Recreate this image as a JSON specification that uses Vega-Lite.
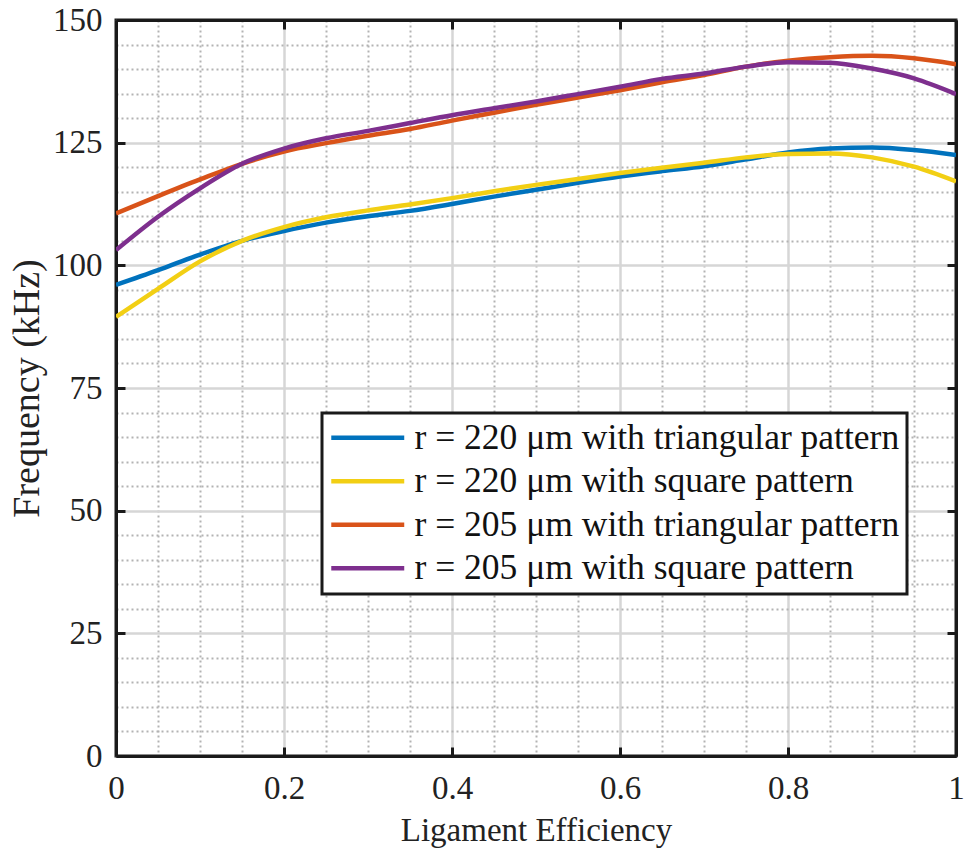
{
  "$schema": "https://vega.github.io/schema/vega-lite/v6.json",
  "width": 840,
  "height": 736,
  "autosize": {"type": "none"},
  "padding": {"left": 116, "top": 20, "right": 8, "bottom": 101},
  "background": "white",
  "config": {
    "view": {"stroke": "#1a1a1a", "strokeWidth": 3},
    "legend": {"strokeWidth": 3},
    "font": "Liberation Serif"
  },
  "data": {
    "values": [
      {"x": 0, "f": 96.0, "s": "r = 220 μm with triangular pattern"},
      {"x": 0.05, "f": 99.0, "s": "r = 220 μm with triangular pattern"},
      {"x": 0.1, "f": 102.2, "s": "r = 220 μm with triangular pattern"},
      {"x": 0.15, "f": 105.0, "s": "r = 220 μm with triangular pattern"},
      {"x": 0.2, "f": 107.0, "s": "r = 220 μm with triangular pattern"},
      {"x": 0.25, "f": 108.7, "s": "r = 220 μm with triangular pattern"},
      {"x": 0.3, "f": 110.0, "s": "r = 220 μm with triangular pattern"},
      {"x": 0.35, "f": 111.1, "s": "r = 220 μm with triangular pattern"},
      {"x": 0.4, "f": 112.5, "s": "r = 220 μm with triangular pattern"},
      {"x": 0.45, "f": 114.0, "s": "r = 220 μm with triangular pattern"},
      {"x": 0.5, "f": 115.4, "s": "r = 220 μm with triangular pattern"},
      {"x": 0.55, "f": 116.8, "s": "r = 220 μm with triangular pattern"},
      {"x": 0.6, "f": 118.1, "s": "r = 220 μm with triangular pattern"},
      {"x": 0.65, "f": 119.2, "s": "r = 220 μm with triangular pattern"},
      {"x": 0.7, "f": 120.2, "s": "r = 220 μm with triangular pattern"},
      {"x": 0.75, "f": 121.6, "s": "r = 220 μm with triangular pattern"},
      {"x": 0.8, "f": 123.0, "s": "r = 220 μm with triangular pattern"},
      {"x": 0.85, "f": 123.8, "s": "r = 220 μm with triangular pattern"},
      {"x": 0.9, "f": 124.0, "s": "r = 220 μm with triangular pattern"},
      {"x": 0.95, "f": 123.5, "s": "r = 220 μm with triangular pattern"},
      {"x": 1, "f": 122.5, "s": "r = 220 μm with triangular pattern"},
      {"x": 0, "f": 89.5, "s": "r = 220 μm with square pattern"},
      {"x": 0.05, "f": 95.2, "s": "r = 220 μm with square pattern"},
      {"x": 0.1, "f": 100.8, "s": "r = 220 μm with square pattern"},
      {"x": 0.15, "f": 105.0, "s": "r = 220 μm with square pattern"},
      {"x": 0.2, "f": 107.8, "s": "r = 220 μm with square pattern"},
      {"x": 0.25, "f": 109.8, "s": "r = 220 μm with square pattern"},
      {"x": 0.3, "f": 111.2, "s": "r = 220 μm with square pattern"},
      {"x": 0.35, "f": 112.4, "s": "r = 220 μm with square pattern"},
      {"x": 0.4, "f": 113.7, "s": "r = 220 μm with square pattern"},
      {"x": 0.45, "f": 115.1, "s": "r = 220 μm with square pattern"},
      {"x": 0.5, "f": 116.4, "s": "r = 220 μm with square pattern"},
      {"x": 0.55, "f": 117.6, "s": "r = 220 μm with square pattern"},
      {"x": 0.6, "f": 118.8, "s": "r = 220 μm with square pattern"},
      {"x": 0.65, "f": 119.9, "s": "r = 220 μm with square pattern"},
      {"x": 0.7, "f": 120.9, "s": "r = 220 μm with square pattern"},
      {"x": 0.75, "f": 122.0, "s": "r = 220 μm with square pattern"},
      {"x": 0.8, "f": 122.7, "s": "r = 220 μm with square pattern"},
      {"x": 0.85, "f": 122.8, "s": "r = 220 μm with square pattern"},
      {"x": 0.9, "f": 122.0, "s": "r = 220 μm with square pattern"},
      {"x": 0.95, "f": 120.1, "s": "r = 220 μm with square pattern"},
      {"x": 1, "f": 117.1, "s": "r = 220 μm with square pattern"},
      {"x": 0, "f": 110.6, "s": "r = 205 μm with triangular pattern"},
      {"x": 0.05, "f": 114.1, "s": "r = 205 μm with triangular pattern"},
      {"x": 0.1, "f": 117.5, "s": "r = 205 μm with triangular pattern"},
      {"x": 0.15, "f": 120.7, "s": "r = 205 μm with triangular pattern"},
      {"x": 0.2, "f": 123.2, "s": "r = 205 μm with triangular pattern"},
      {"x": 0.25, "f": 124.9, "s": "r = 205 μm with triangular pattern"},
      {"x": 0.3, "f": 126.4, "s": "r = 205 μm with triangular pattern"},
      {"x": 0.35, "f": 127.8, "s": "r = 205 μm with triangular pattern"},
      {"x": 0.4, "f": 129.5, "s": "r = 205 μm with triangular pattern"},
      {"x": 0.45, "f": 131.1, "s": "r = 205 μm with triangular pattern"},
      {"x": 0.5, "f": 132.7, "s": "r = 205 μm with triangular pattern"},
      {"x": 0.55, "f": 134.2, "s": "r = 205 μm with triangular pattern"},
      {"x": 0.6, "f": 135.7, "s": "r = 205 μm with triangular pattern"},
      {"x": 0.65, "f": 137.3, "s": "r = 205 μm with triangular pattern"},
      {"x": 0.7, "f": 138.8, "s": "r = 205 μm with triangular pattern"},
      {"x": 0.75, "f": 140.5, "s": "r = 205 μm with triangular pattern"},
      {"x": 0.8, "f": 141.7, "s": "r = 205 μm with triangular pattern"},
      {"x": 0.85, "f": 142.4, "s": "r = 205 μm with triangular pattern"},
      {"x": 0.9, "f": 142.7, "s": "r = 205 μm with triangular pattern"},
      {"x": 0.95, "f": 142.2, "s": "r = 205 μm with triangular pattern"},
      {"x": 1, "f": 141.0, "s": "r = 205 μm with triangular pattern"},
      {"x": 0, "f": 103.1, "s": "r = 205 μm with square pattern"},
      {"x": 0.05, "f": 109.9, "s": "r = 205 μm with square pattern"},
      {"x": 0.1, "f": 115.7, "s": "r = 205 μm with square pattern"},
      {"x": 0.15, "f": 120.7, "s": "r = 205 μm with square pattern"},
      {"x": 0.2, "f": 123.8, "s": "r = 205 μm with square pattern"},
      {"x": 0.25, "f": 125.9, "s": "r = 205 μm with square pattern"},
      {"x": 0.3, "f": 127.4, "s": "r = 205 μm with square pattern"},
      {"x": 0.35, "f": 129.0, "s": "r = 205 μm with square pattern"},
      {"x": 0.4, "f": 130.6, "s": "r = 205 μm with square pattern"},
      {"x": 0.45, "f": 132.0, "s": "r = 205 μm with square pattern"},
      {"x": 0.5, "f": 133.4, "s": "r = 205 μm with square pattern"},
      {"x": 0.55, "f": 134.9, "s": "r = 205 μm with square pattern"},
      {"x": 0.6, "f": 136.4, "s": "r = 205 μm with square pattern"},
      {"x": 0.65, "f": 138.0, "s": "r = 205 μm with square pattern"},
      {"x": 0.7, "f": 139.1, "s": "r = 205 μm with square pattern"},
      {"x": 0.75, "f": 140.5, "s": "r = 205 μm with square pattern"},
      {"x": 0.8, "f": 141.4, "s": "r = 205 μm with square pattern"},
      {"x": 0.85, "f": 141.3, "s": "r = 205 μm with square pattern"},
      {"x": 0.9, "f": 140.1, "s": "r = 205 μm with square pattern"},
      {"x": 0.95, "f": 138.1, "s": "r = 205 μm with square pattern"},
      {"x": 1, "f": 134.9, "s": "r = 205 μm with square pattern"}
    ]
  },
  "resolve": {"axis": {"x": "independent", "y": "independent"}},
  "layer": [
    {
      "mark": {"type": "line", "strokeWidth": 4.5, "interpolate": "monotone", "clip": true},
      "encoding": {
        "x": {
          "field": "x", "type": "quantitative",
          "scale": {"domain": [0, 1], "nice": false, "zero": false},
          "axis": {
            "orient": "bottom",
            "values": [0, 0.05, 0.1, 0.15, 0.2, 0.25, 0.3, 0.35, 0.4, 0.45, 0.5, 0.55, 0.6, 0.65, 0.7, 0.75, 0.8, 0.85, 0.9, 0.95, 1],
            "title": "Ligament Efficiency",
            "titleFont": "Liberation Serif", "titleFontSize": 33, "titleFontWeight": "normal", "titleColor": "#222",
            "titlePadding": 9,
            "labelFont": "Liberation Serif", "labelFontSize": 33, "labelColor": "#222",
            "labelExpr": "abs(datum.value*5-round(datum.value*5))<1e-6 ? format(datum.value,'~g') : ''",
            "labelPadding": 25, "labelOverlap": false, "labelFlush": false, "labelBound": false,
            "grid": true,
            "gridColor": {"condition": {"test": "abs(datum.value*5-round(datum.value*5))<1e-6", "value": "#d6d6d6"}, "value": "#b3b3b3"},
            "gridDash": {"condition": {"test": "abs(datum.value*5-round(datum.value*5))<1e-6", "value": []}, "value": [2, 3]},
            "gridWidth": {"condition": {"test": "abs(datum.value*5-round(datum.value*5))<1e-6", "value": 2.5}, "value": 2},
            "ticks": true, "tickSize": -9, "tickWidth": 3, "tickColor": "#1a1a1a",
            "tickOpacity": {"condition": {"test": "abs(datum.value*5-round(datum.value*5))<1e-6", "value": 1}, "value": 0},
            "domainColor": "#1a1a1a", "domainWidth": 3
          }
        },
        "y": {
          "field": "f", "type": "quantitative",
          "scale": {"domain": [0, 150], "nice": false},
          "axis": {
            "orient": "left",
            "values": [0, 5, 10, 15, 20, 25, 30, 35, 40, 45, 50, 55, 60, 65, 70, 75, 80, 85, 90, 95, 100, 105, 110, 115, 120, 125, 130, 135, 140, 145, 150],
            "title": "Frequency (kHz)",
            "titleFont": "Liberation Serif", "titleFontSize": 38, "titleFontWeight": "normal", "titleColor": "#222",
            "titlePadding": 6,
            "labelFont": "Liberation Serif", "labelFontSize": 33, "labelColor": "#222",
            "labelExpr": "datum.value % 25 === 0 ? format(datum.value,'d') : ''",
            "labelPadding": 23, "labelOverlap": false, "labelFlush": false, "labelBound": false,
            "grid": true,
            "gridColor": {"condition": {"test": "datum.value % 25 === 0", "value": "#d6d6d6"}, "value": "#b3b3b3"},
            "gridDash": {"condition": {"test": "datum.value % 25 === 0", "value": []}, "value": [2, 3]},
            "gridWidth": {"condition": {"test": "datum.value % 25 === 0", "value": 2.5}, "value": 2},
            "ticks": true, "tickSize": -9, "tickWidth": 3, "tickColor": "#1a1a1a",
            "tickOpacity": {"condition": {"test": "datum.value % 25 === 0", "value": 1}, "value": 0},
            "domainColor": "#1a1a1a", "domainWidth": 3
          }
        },
        "color": {
          "field": "s", "type": "nominal",
          "scale": {
            "domain": ["r = 220 μm with triangular pattern", "r = 220 μm with square pattern", "r = 205 μm with triangular pattern", "r = 205 μm with square pattern"],
            "range": ["#0072BD", "#F2CF14", "#D95319", "#7E2F8E"]
          },
          "legend": {
            "orient": "none", "legendX": 206, "legendY": 393,
            "title": null,
            "symbolType": "M-5,0H5", "symbolSize": 213, "symbolStrokeWidth": 4.5,
            "symbolOffset": 21,
            "labelFont": "Liberation Serif", "labelFontSize": 35.5, "labelColor": "#111", "labelLimit": 900,
            "labelOffset": 29,
            "padding": 7, "rowPadding": 6.5,
            "strokeColor": "#1a1a1a", "fillColor": "white"
          }
        }
      }
    },
    {
      "mark": {"type": "line", "strokeOpacity": 0},
      "encoding": {
        "x": {
          "field": "x", "type": "quantitative",
          "axis": {
            "orient": "top", "values": [0, 0.2, 0.4, 0.6, 0.8, 1], "title": null, "labels": false, "grid": false,
            "ticks": true, "tickSize": -9, "tickWidth": 3, "tickColor": "#1a1a1a",
            "domainColor": "#1a1a1a", "domainWidth": 3
          }
        },
        "y": {
          "field": "f", "type": "quantitative",
          "axis": {
            "orient": "right", "values": [0, 25, 50, 75, 100, 125, 150], "title": null, "labels": false, "grid": false,
            "ticks": true, "tickSize": -9, "tickWidth": 3, "tickColor": "#1a1a1a",
            "domainColor": "#1a1a1a", "domainWidth": 3
          }
        }
      }
    }
  ]
}
